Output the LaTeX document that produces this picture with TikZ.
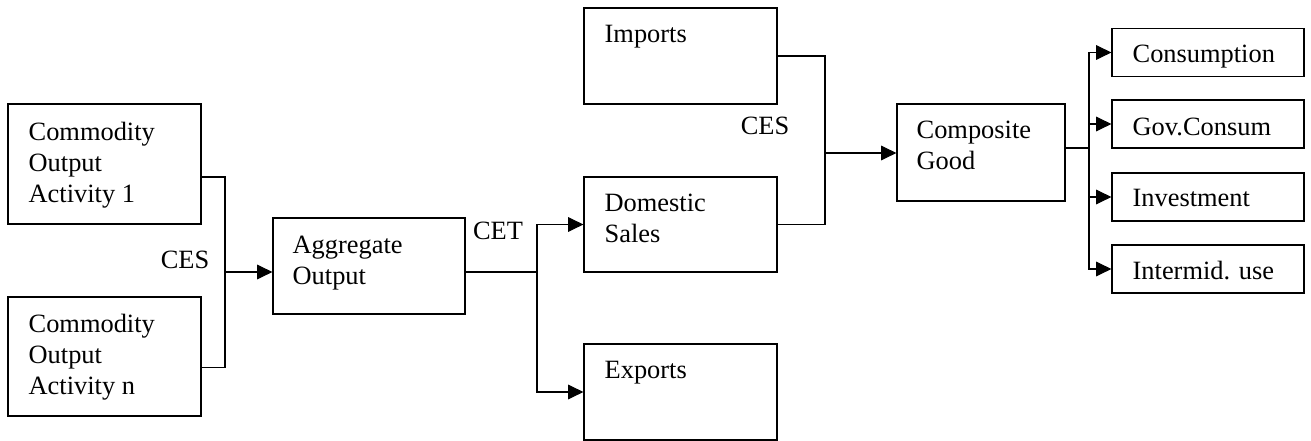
\documentclass[tikz,border=0pt]{standalone}
\usepackage{fontspec}
\setmainfont{Liberation Serif}
\usetikzlibrary{arrows.meta}

\newcommand{\filas}[1]{\begin{tabular}[t]{@{}l@{}}#1\end{tabular}}

\begin{document}
\begin{tikzpicture}[x=0.75pt, y=-0.75pt,
	caja/.style={draw, line width=0.9pt, inner sep=0pt, minimum width=144.75pt, minimum height=72pt},
	texto/.style={anchor=base west, inner sep=0pt, font=\fontsize{19.8pt}{23.25pt}\selectfont},
	linea/.style={line width=0.8pt},
	flecha/.style={linea, -{Triangle[length=11.5pt, width=11pt]}}]
	
	\useasboundingbox (0,0) rectangle (1311,441);
	
	% cajas
	\node[caja, minimum height=90pt] (act1) at (104.5,164) {};
	\node[caja, minimum height=89.25pt] (actn) at (104.5,356.5) {};
	\node[caja, minimum width=144pt] (agg) at (369,266) {};
	\node[caja] (imp) at (680.5,56) {};
	\node[caja, minimum height=71.25pt] (dom) at (680.5,224.5) {};
	\node[caja] (exp) at (680.5,392) {};
	\node[caja, minimum width=126pt, minimum height=72.75pt] (comp) at (981,152.5) {};
	\node[caja, minimum width=144pt, minimum height=36pt] (cons) at (1208,52.5) {};
	\node[caja, minimum width=144pt, minimum height=36pt] (gov) at (1208,124) {};
	\node[caja, minimum width=144pt, minimum height=36pt] (inv) at (1208,197) {};
	\node[caja, minimum width=144pt, minimum height=36pt] (intm) at (1208,269) {};
	
	% textos
	\node[texto] (act1-t) at ([shift={(21,37)}]act1.north west) {\filas{Commodity\\Output\\Activity 1}};
	\node[texto] (actn-t) at ([shift={(21,36)}]actn.north west) {\filas{Commodity\\Output\\Activity n}};
	\node[texto] (agg-t) at ([shift={(20,36)}]agg.north west) {\filas{Aggregate\\Output}};
	\node[texto] (imp-t) at ([shift={(21,35)}]imp.north west) {Imports};
	\node[texto] (dom-t) at ([shift={(21,35)}]dom.north west) {\filas{Domestic\\Sales}};
	\node[texto] (exp-t) at ([shift={(21,35)}]exp.north west) {Exports};
	\node[texto] (comp-t) at ([shift={(20,35)}]comp.north west) {\filas{Composite\\Good}};
	\node[texto] (cons-t) at ([shift={(21,35)}]cons.north west) {Consumption};
	\node[texto] (gov-t) at ([shift={(21,36)}]gov.north west) {Gov.Consum};
	\node[texto] (inv-t) at ([shift={(21,34)}]inv.north west) {Investment};
	\node[texto] (intm-t) at ([shift={(21,35)}]intm.north west) {Intermid. use};
	
	% etiquetas
	\node[texto, anchor=base] (ces1) at (185,269) {CES};
	\node[texto, anchor=base] (cet) at (498,240) {CET};
	\node[texto, anchor=base] (ces2) at (765,135) {CES};
	
	% CES: actividades -> producto
	\coordinate (j1) at (225,272);
	\draw[linea] ([yshift=-9.75pt]act1.east) -| (j1) |- ([yshift=-8.6pt]actn.east);
	\draw[flecha] (j1) -- (j1 -| agg.west);
	
	% CET: producto -> ventas, exportaciones
	\coordinate (j2) at (537,272);
	\draw[linea] (j2 -| agg.east) -- (j2);
	\draw[flecha] (j2) |- (dom.west);
	\draw[flecha] (j2) |- (exp.west);
	
	% CES: importaciones + ventas -> compuesto
	\coordinate (j3) at (825,153);
	\draw[linea] (imp.east) -| (j3) |- (dom.east);
	\draw[flecha] (j3) -- (j3 -| comp.west);
	
	% usos
	\coordinate (j4) at (1089,148);
	\draw[linea] (j4 -| comp.east) -- (j4);
	\foreach \u in {cons,gov,inv,intm}
		\draw[flecha] (j4) |- (\u.west);
	
\end{tikzpicture}
\end{document}
